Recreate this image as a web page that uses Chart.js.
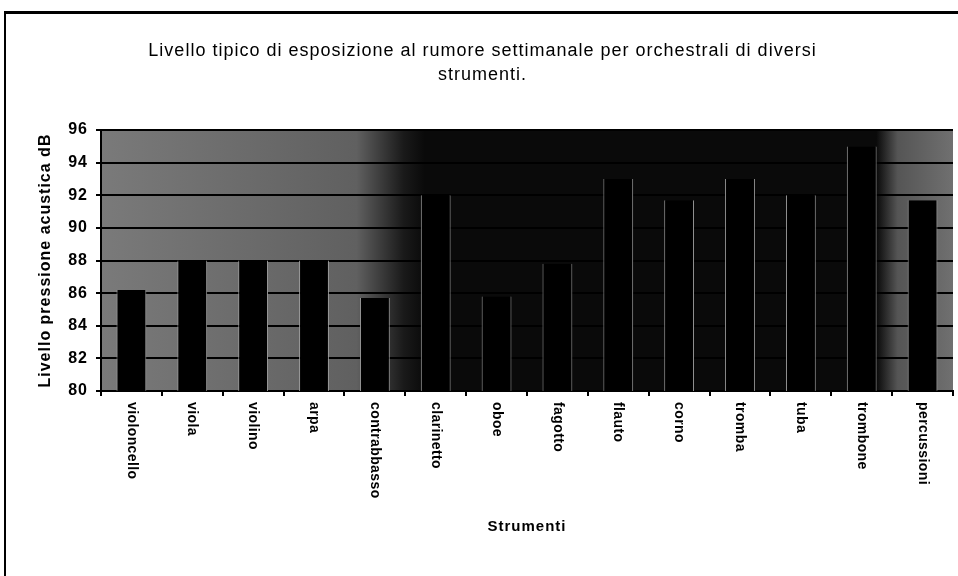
<!DOCTYPE html>
<html>
<head>
<meta charset="utf-8">
<script src="https://cdn.jsdelivr.net/npm/chart.js@4"></script>
<style>
  html, body { margin: 0; padding: 0; background: #fff; }
  #wrap { position: relative; width: 958px; height: 576px; }
  #frame { position: absolute; left: 4px; top: 11px; right: 0; bottom: 0;
           border-left: 2px solid #000; border-top: 3px solid #000; }
  canvas { position: absolute; left: 0; top: 0; }
</style>
</head>
<body>
<div id="wrap">
  <div id="frame"></div>
  <canvas id="noiseChart" width="958" height="576"></canvas>
</div>
<script>
// strumenti e livelli (dB)
var strumenti = ['violoncello', 'viola', 'violino', 'arpa', 'contrabbasso', 'clarinetto', 'oboe',
                 'fagotto', 'flauto', 'corno', 'tromba', 'tuba', 'trombone', 'percussioni'];
var livelli = [86.2, 88, 88, 88, 85.7, 92, 85.8, 87.8, 93, 91.7, 93, 92, 95, 91.7];
var yMin = 80;
var yMax = 96;
var yStep = 2;

var titolo = ['Livello tipico di esposizione al rumore settimanale per orchestrali di diversi', 'strumenti.'];

var fontName = '"Liberation Sans", Arial, sans-serif';

// sfondo dell'area del grafico (retino scansionato, reso con un gradiente)
// e spaziatura delle lettere come nella scansione
var plotBackground = {
  id: 'plotBackground',
  beforeDraw: function(chart) {
    var a = chart.chartArea;
    var ctx = chart.ctx;
    var g = ctx.createLinearGradient(a.left, 0, a.right, 0);
    g.addColorStop(0, '#7a7a7a');
    g.addColorStop(0.30, '#606060');
    g.addColorStop(0.355, '#1a1a1a');
    g.addColorStop(0.38, '#0a0a0a');
    g.addColorStop(0.91, '#0a0a0a');
    g.addColorStop(0.935, '#555555');
    g.addColorStop(1, '#707070');
    ctx.save();
    ctx.fillStyle = g;
    ctx.fillRect(a.left, a.top, a.right - a.left, a.bottom - a.top);
    ctx.restore();
    ctx.letterSpacing = '1px';
  },
  afterDraw: function(chart) {
    chart.ctx.letterSpacing = '0px';
  }
};

// etichette dell'asse x ruotate in senso orario
var xLabels = {
  id: 'xLabels',
  afterDraw: function(chart) {
    var xs = chart.scales.x;
    var ctx = chart.ctx;
    ctx.save();
    ctx.letterSpacing = '0.4px';
    ctx.fillStyle = '#000';
    ctx.font = 'bold 14px ' + fontName;
    ctx.textAlign = 'left';
    ctx.textBaseline = 'middle';
    for (var i = 0; i < strumenti.length; i++) {
      var x = xs.getPixelForValue(i);
      ctx.save();
      ctx.translate(x, xs.top + 11);
      ctx.rotate(Math.PI / 2);
      ctx.fillText(strumenti[i], 0, 0);
      ctx.restore();
    }
    ctx.restore();
  }
};

var ctx = document.getElementById('noiseChart');

var barGraph = new Chart(ctx, {
  type: 'bar',
  data: {
    labels: strumenti,
    datasets: [{
      label: 'Livello',
      data: livelli,
      backgroundColor: '#000',
      borderColor: '#a0a0a0',
      borderWidth: { left: 1, right: 1, top: 0, bottom: 0 },
      borderSkipped: false,
      barPercentage: 0.49,
      categoryPercentage: 1
    }]
  },
  options: {
    responsive: false,
    animation: false,
    layout: { padding: { top: 40, left: 12, right: 5, bottom: 40 } },
    plugins: {
      legend: { display: false },
      tooltip: { enabled: false },
      title: {
        display: true,
        text: titolo,
        color: '#000',
        font: { family: fontName, size: 18, weight: 'normal', lineHeight: 1.28 },
        padding: { top: 0, bottom: 44 }
      }
    },
    scales: {
      x: {
        offset: true,
        grid: { display: true, drawOnChartArea: false, offset: true, color: '#000', lineWidth: 2, tickLength: 5 },
        border: { display: true, color: '#000', width: 2 },
        ticks: { display: false },
        title: {
          display: true,
          text: 'Strumenti',
          color: '#000',
          font: { family: fontName, size: 15, weight: 'bold' },
          padding: { top: 122, bottom: 0 }
        }
      },
      y: {
        min: yMin,
        max: yMax,
        grid: { color: '#000', lineWidth: 2, tickLength: 5 },
        border: { display: true, color: '#000', width: 2 },
        ticks: {
          stepSize: yStep,
          color: '#000',
          padding: 8,
          font: { family: fontName, size: 16, weight: 'bold' }
        },
        title: {
          display: true,
          text: 'Livello pressione acustica dB',
          color: '#000',
          font: { family: fontName, size: 16, weight: 'bold' },
          padding: { top: 24, bottom: 7 }
        }
      }
    }
  },
  plugins: [plotBackground, xLabels]
});
</script>
</body>
</html>
